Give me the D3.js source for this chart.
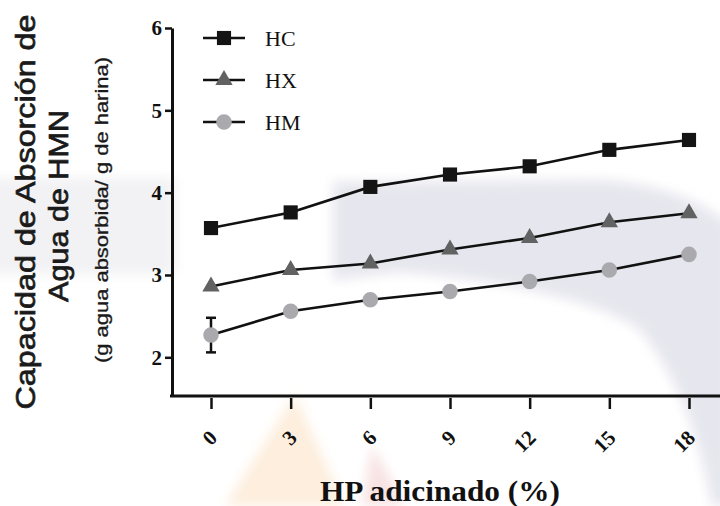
<!DOCTYPE html>
<html>
<head>
<meta charset="utf-8">
<script src="https://cdn.jsdelivr.net/npm/d3@7"></script>
<style>
  html, body { margin: 0; padding: 0; background: #fff; }
  svg { display: block; }
</style>
</head>
<body>
<div id="chart"></div>
<script>
// data
const hpLevels = [0, 3, 6, 9, 12, 15, 18];
const hcValues = [3.57, 3.76, 4.07, 4.22, 4.32, 4.52, 4.64];
const hxValues = [2.86, 3.06, 3.14, 3.31, 3.45, 3.64, 3.75];
const hmValues = [2.27, 2.56, 2.70, 2.80, 2.92, 3.06, 3.25];
const hmErrors = [0.21, 0, 0, 0, 0, 0, 0];
const yTicks = [2, 3, 4, 5, 6];
const seriesNames = ['HC', 'HX', 'HM'];

const width = 720, height = 506;
const serif = '"Liberation Serif", "Times New Roman", serif';
const sans = '"Liberation Sans", Arial, sans-serif';

const svg = d3.select('#chart').append('svg')
  .attr('width', width)
  .attr('height', height);

// faint watermark behind the plot
const defs = svg.append('defs');
defs.append('filter').attr('id', 'soft')
  .append('feGaussianBlur').attr('stdDeviation', 6);

const bg = svg.append('g').attr('filter', 'url(#soft)');
bg.append('path')
  .attr('d', 'M333,182 L600,180 C660,184 700,200 730,225 L730,506 L712,506 C700,440 680,380 640,330 C600,300 500,280 400,272 L333,280 Z')
  .attr('fill', '#e6e6ee');
bg.append('path')
  .attr('d', 'M225,506 L295,395 L345,506 Z')
  .attr('fill', '#fdeedd');
bg.append('path')
  .attr('d', 'M362,506 L372,445 L405,506 Z')
  .attr('fill', '#f8e2e2');
bg.append('rect')
  .attr('x', -20).attr('y', 178).attr('width', 195).attr('height', 96)
  .attr('fill', '#f2f2f4');

const x = d3.scaleLinear().domain([0, 18]).range([211, 689]);
const y = d3.scaleLinear().domain([1.53, 6]).range([396, 28]);

// y axis
const yAxis = svg.append('g')
  .attr('transform', 'translate(172,0)')
  .call(d3.axisLeft(y).tickValues(yTicks).tickSize(7).tickSizeOuter(0).tickFormat(d3.format('d')));
yAxis.select('.domain').attr('stroke', '#111').attr('stroke-width', 3);
yAxis.selectAll('.tick line').attr('stroke', '#111').attr('stroke-width', 2.5);
yAxis.selectAll('text')
  .attr('x', -10)
  .style('font-family', serif)
  .style('font-weight', 'bold')
  .style('font-size', '21px')
  .attr('fill', '#111');

// x axis line
svg.append('line')
  .attr('x1', 170).attr('x2', 720)
  .attr('y1', y(1.53)).attr('y2', y(1.53))
  .attr('stroke', '#111').attr('stroke-width', 3);

const xAxis = svg.append('g')
  .attr('transform', 'translate(0,398)')
  .call(d3.axisBottom(x).tickValues(hpLevels).tickSize(11).tickSizeOuter(0));
xAxis.select('.domain').remove();
xAxis.selectAll('.tick line').attr('stroke', '#111').attr('stroke-width', 2.5);
xAxis.selectAll('text')
  .attr('y', 0)
  .attr('dy', 0)
  .attr('text-anchor', 'end')
  .attr('transform', 'translate(7,41) rotate(-45)')
  .style('font-family', serif)
  .style('font-weight', 'bold')
  .style('font-size', '21px')
  .attr('fill', '#111');

// series
const series = [
  { name: 'HC', values: hcValues, shape: d3.symbolSquare, size: 200, fill: '#141414' },
  { name: 'HX', values: hxValues, shape: d3.symbolTriangle, size: 130, fill: '#626262' },
  { name: 'HM', values: hmValues, shape: d3.symbolCircle, size: 190, fill: '#a9a9ae' }
];

const line = d3.line().x((d, i) => x(hpLevels[i])).y(d => y(d));

// error bars (HM)
hmErrors.forEach((e, i) => {
  if (!e) return;
  const cx = x(hpLevels[i]);
  const g = svg.append('g').attr('stroke', '#111').attr('stroke-width', 2.5);
  g.append('line').attr('x1', cx).attr('x2', cx).attr('y1', y(hmValues[i] - e)).attr('y2', y(hmValues[i] + e));
  g.append('line').attr('x1', cx - 5).attr('x2', cx + 5).attr('y1', y(hmValues[i] - e)).attr('y2', y(hmValues[i] - e));
  g.append('line').attr('x1', cx - 5).attr('x2', cx + 5).attr('y1', y(hmValues[i] + e)).attr('y2', y(hmValues[i] + e));
});

series.forEach(s => {
  svg.append('path')
    .datum(s.values)
    .attr('d', line)
    .attr('fill', 'none')
    .attr('stroke', '#111')
    .attr('stroke-width', 2.6);

  svg.selectAll(null)
    .data(s.values)
    .enter()
    .append('path')
    .attr('d', d3.symbol().type(s.shape).size(s.size))
    .attr('transform', (d, i) => `translate(${x(hpLevels[i])},${y(d)})`)
    .attr('fill', s.fill);
});

// legend
const legend = svg.append('g');
series.forEach((s, i) => {
  const ly = 38 + i * 42;
  legend.append('line')
    .attr('x1', 203).attr('x2', 245).attr('y1', ly).attr('y2', ly)
    .attr('stroke', '#111').attr('stroke-width', 2.6);
  legend.append('path')
    .attr('d', d3.symbol().type(s.shape).size(s.size))
    .attr('transform', `translate(224,${ly})`)
    .attr('fill', s.fill);
  legend.append('text')
    .attr('x', 265).attr('y', ly + 8)
    .text(seriesNames[i])
    .style('font-family', serif)
    .style('font-size', '22px')
    .attr('fill', '#111');
});

// axis titles (slight stroke to match the heavier look of the original)
svg.append('text')
  .attr('transform', 'translate(35,212) rotate(-90)')
  .attr('text-anchor', 'middle')
  .attr('textLength', 395)
  .attr('lengthAdjust', 'spacingAndGlyphs')
  .style('font-family', sans)
  .style('font-size', '28px')
  .attr('fill', '#1a1a1a')
  .attr('stroke', '#1a1a1a').attr('stroke-width', 0.7)
  .text('Capacidad de Absorción de');

svg.append('text')
  .attr('transform', 'translate(68,206) rotate(-90)')
  .attr('text-anchor', 'middle')
  .attr('textLength', 192)
  .attr('lengthAdjust', 'spacingAndGlyphs')
  .style('font-family', sans)
  .style('font-size', '27px')
  .attr('fill', '#1a1a1a')
  .attr('stroke', '#1a1a1a').attr('stroke-width', 0.7)
  .text('Agua de HMN');

svg.append('text')
  .attr('transform', 'translate(108,210) rotate(-90)')
  .attr('text-anchor', 'middle')
  .attr('textLength', 306)
  .attr('lengthAdjust', 'spacingAndGlyphs')
  .style('font-family', sans)
  .style('font-size', '18px')
  .attr('fill', '#1a1a1a')
  .attr('stroke', '#1a1a1a').attr('stroke-width', 0.3)
  .text('(g agua absorbida/ g de harina)');

svg.append('text')
  .attr('x', 440).attr('y', 501)
  .attr('text-anchor', 'middle')
  .attr('textLength', 240)
  .attr('lengthAdjust', 'spacingAndGlyphs')
  .style('font-family', serif)
  .style('font-weight', 'bold')
  .style('font-size', '30px')
  .attr('fill', '#111')
  .text('HP adicinado (%)');
</script>
</body>
</html>
